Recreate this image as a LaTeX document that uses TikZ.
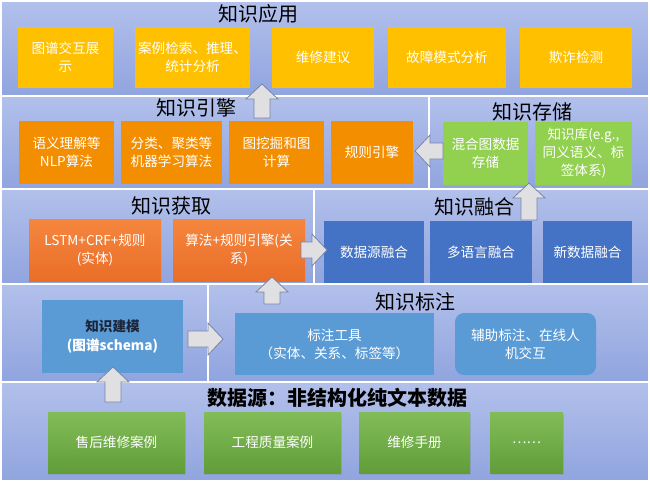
\documentclass[tikz,border=0pt]{standalone}
\usepackage{fontspec}
\setmainfont{Noto Sans CJK SC}
\usetikzlibrary{calc,shadows}
\definecolor{pantop}{RGB}{178,192,235}
\definecolor{panbot}{RGB}{144,164,222}
\definecolor{appyel}{RGB}{255,192,0}
\definecolor{engor}{RGB}{242,142,0}
\definecolor{acqtop}{RGB}{245,134,62}
\definecolor{acqbot}{RGB}{234,110,40}
\definecolor{stgrn}{RGB}{146,208,80}
\definecolor{fublue}{RGB}{68,114,196}
\definecolor{anblue}{RGB}{91,155,213}
\definecolor{dstop}{RGB}{130,188,88}
\definecolor{dsbot}{RGB}{96,158,56}
\definecolor{arrfill}{RGB}{224,224,226}
\definecolor{arrdraw}{RGB}{118,134,166}
\definecolor{mdark}{RGB}{28,38,58}
\newcommand\bx[7]{\node[#6, minimum width={#3pt-#2pt}, minimum height={#5pt-#4pt}] (#1) at ({(#2+#3)/2},{(#4+#5)/2}) {#7};}
\newcommand\blockarr[2]{%
  \coordinate (bh) at ($(#2)!15pt!(#1)$);
  \draw[barrow] ($(#1)!8pt!90:(#2)$) -- ($(bh)!8pt!90:(#2)$) -- ($(bh)!16pt!90:(#2)$) -- (#2) -- ($(bh)!16pt!-90:(#2)$) -- ($(bh)!8pt!-90:(#2)$) -- ($(#1)!8pt!-90:(#2)$) -- cycle;}
\begin{document}
\begin{tikzpicture}[x=1pt,y=-1pt,
  panel/.style={draw=white, line width=1.2pt, top color=pantop, bottom color=panbot, inner sep=0pt},
  box/.style={draw=none, fill=#1, text=white, align=center, inner sep=0pt, font=\fontsize{13.6}{18}\selectfont},
  gbox/.style={draw=none, top color=#1top, bottom color=#1bot, text=white, align=center, inner sep=0pt, font=\fontsize{13.6}{18}\selectfont},
  ttl/.style={font=\fontsize{20}{23}\selectfont, text=black, inner sep=0pt},
  barrow/.style={fill=arrfill, draw=arrdraw, line width=0.8pt, line join=miter}]
\fill[white] (0,0) rectangle (650,482);
\useasboundingbox (0,0) rectangle (650,482);
% panels
\bx{p1}{1}{649}{1}{96}{panel}{}
\bx{p2}{1}{429}{96}{189}{panel}{}
\bx{p3}{429}{649}{96}{189}{panel}{}
\bx{p4}{1}{314}{189}{284}{panel}{}
\bx{p5}{314}{649}{189}{284}{panel}{}
\bx{p6}{1}{208}{284}{382}{panel}{}
\bx{p7}{208}{649}{284}{382}{panel}{}
\bx{p8}{1}{649}{382}{481}{panel}{}
% titles
\node[ttl] (t1) at (258,14) {知识应用};
\node[ttl] (t2) at (196,108) {知识引擎};
\node[ttl] (t3) at (532,112) {知识存储};
\node[ttl] (t4) at (171,206) {知识获取};
\node[ttl] (t5) at (474,207) {知识融合};
\node[ttl] (t7) at (415,302) {知识标注};
\node[ttl, font=\fontsize{20}{23}\selectfont\bfseries] (t8) at (337,398) {数据源：非结构化纯文本数据};
% application
\bx{a1}{18}{113}{27}{88}{box=appyel}{图谱交互展\\示}
\bx{a2}{135}{250}{27}{88}{box=appyel}{案例检索、推理、\\统计分析}
\bx{a3}{272}{374}{27}{88}{box=appyel}{维修建议}
\bx{a4}{388}{506}{27}{88}{box=appyel}{故障模式分析}
\bx{a5}{520}{632}{27}{88}{box=appyel}{欺诈检测}
% engine
\bx{b1}{19}{114}{121}{184}{box=engor}{语义理解等\\NLP算法}
\bx{b2}{121}{222}{121}{184}{box=engor}{分类、聚类等\\机器学习算法}
\bx{b3}{229}{324}{121}{184}{box=engor}{图挖掘和图\\计算}
\bx{b4}{331}{413}{121}{184}{box=engor}{规则引擎}
% storage
\bx{c1}{443}{528}{122}{185}{box=stgrn}{混合图数据\\存储}
\bx{c2}{535}{632}{122}{185}{box=stgrn}{知识库(e.g.,\\同义语义、标\\签体系)}
% acquisition
\bx{d1}{29}{161}{219}{281}{gbox=acq}{LSTM+CRF+规则\\(实体)}
\bx{d2}{173}{305}{219}{281}{gbox=acq}{算法+规则引擎(关\\系)}
% fusion
\bx{e1}{324}{424}{221}{283}{box=fublue}{数据源融合}
\bx{e2}{430}{532}{221}{283}{box=fublue}{多语言融合}
\bx{e3}{543}{632}{221}{283}{box=fublue}{新数据融合}
% modelling
\bx{f1}{42}{183}{300}{373}{box=anblue, font=\fontsize{13.6}{19}\selectfont\bfseries}{\textcolor{mdark}{知识建模}\\(图谱schema)}
% annotation
\bx{g1}{235}{434}{313}{375}{box=anblue}{标注工具\\（实体、关系、标签等）}
\bx{g2}{455}{596}{313}{375}{box=anblue, rounded corners=9pt}{辅助标注、在线人\\机交互}
% data sources
\bx{h1}{48}{185}{412}{473}{gbox=ds, drop shadow={shadow xshift=1pt, shadow yshift=-2pt, opacity=0.25}}{售后维修案例}
\bx{h2}{204}{341}{412}{473}{gbox=ds, drop shadow={shadow xshift=1pt, shadow yshift=-2pt, opacity=0.25}}{工程质量案例}
\bx{h3}{359}{470}{412}{473}{gbox=ds, drop shadow={shadow xshift=1pt, shadow yshift=-2pt, opacity=0.25}}{维修手册}
\bx{h4}{490}{563}{412}{473}{gbox=ds, drop shadow={shadow xshift=1pt, shadow yshift=-2pt, opacity=0.25}}{……}
% arrow end points
\coordinate (s1) at (262,118); \coordinate (e1t) at (262,84);
\coordinate (s2) at (443,151); \coordinate (e2t) at (415,151);
\coordinate (s3) at (301,250); \coordinate (e3t) at (327,250);
\coordinate (s4) at (529,220); \coordinate (e4t) at (529,183);
\coordinate (s5) at (188,339); \coordinate (e5t) at (223,339);
\coordinate (s6) at (272,304); \coordinate (e6t) at (272,277);
\coordinate (s7) at (113,402); \coordinate (e7t) at (113,367);
\blockarr{s1}{e1t}
\blockarr{s2}{e2t}
\blockarr{s3}{e3t}
\blockarr{s4}{e4t}
\blockarr{s5}{e5t}
\blockarr{s6}{e6t}
\blockarr{s7}{e7t}
\end{tikzpicture}
\end{document}
